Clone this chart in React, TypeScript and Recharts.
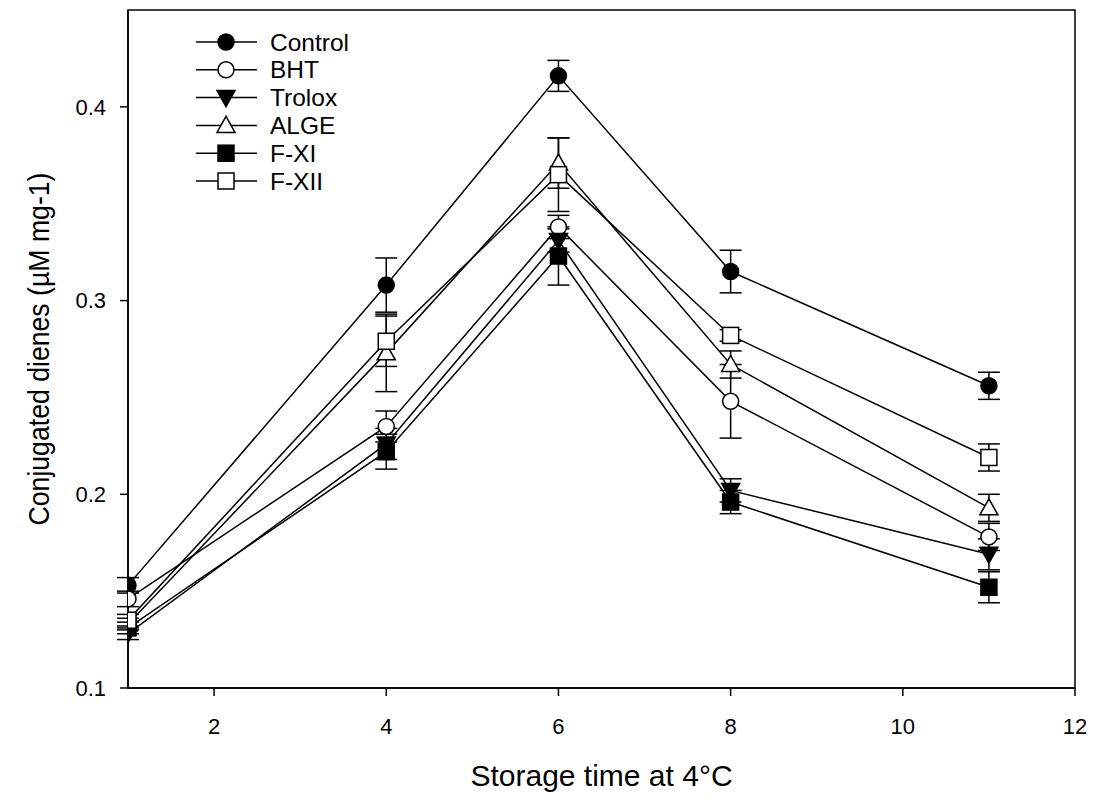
import React from "react";
import {
  LineChart,
  Line,
  XAxis,
  YAxis,
  ErrorBar,
  ReferenceArea,
  Label,
} from "recharts";

// storage days
const days = [1, 4, 6, 8, 11];

const control = [0.153, 0.308, 0.416, 0.315, 0.256];
const controlErr = [0.004, 0.014, 0.008, 0.011, 0.007];
const bht = [0.146, 0.235, 0.338, 0.248, 0.178];
const bhtErr = [0.004, 0.008, 0.006, 0.019, 0.007];
const trolox = [0.128, 0.226, 0.331, 0.202, 0.169];
const troloxErr = [0.003, 0.008, 0.006, 0.006, 0.008];
const alge = [0.133, 0.273, 0.371, 0.267, 0.193];
const algeErr = [0.003, 0.02, 0.013, 0.007, 0.007];
const fxi = [0.131, 0.222, 0.323, 0.196, 0.152];
const fxiErr = [0.003, 0.009, 0.015, 0.006, 0.008];
const fxii = [0.135, 0.279, 0.365, 0.282, 0.219];
const fxiiErr = [0.003, 0.013, 0.019, 0.003, 0.007];

const xTicks = [2, 4, 6, 8, 10, 12];
const yTicks = [0.1, 0.2, 0.3, 0.4];

type Shape = "circle" | "triangleDown" | "triangleUp" | "square";

const seriesList: { key: string; name: string; shape: Shape; filled: boolean }[] = [
  { key: "control", name: "Control", shape: "circle", filled: true },
  { key: "bht", name: "BHT", shape: "circle", filled: false },
  { key: "trolox", name: "Trolox", shape: "triangleDown", filled: true },
  { key: "alge", name: "ALGE", shape: "triangleUp", filled: false },
  { key: "fxi", name: "F-XI", shape: "square", filled: true },
  { key: "fxii", name: "F-XII", shape: "square", filled: false },
];

const values: Record<string, number[]> = { control, bht, trolox, alge, fxi, fxii };
const errors: Record<string, number[]> = {
  control: controlErr,
  bht: bhtErr,
  trolox: troloxErr,
  alge: algeErr,
  fxi: fxiErr,
  fxii: fxiiErr,
};

const data = days.map((d, i) => {
  const row: Record<string, number> = { x: d };
  seriesList.forEach((s) => {
    row[s.key] = values[s.key][i];
    row[s.key + "Err"] = errors[s.key][i];
  });
  return row;
});

const font = "'Liberation Sans', Arial, sans-serif";

function Marker({ cx, cy, shape, filled }: { cx: number; cy: number; shape: Shape; filled: boolean }) {
  const fill = filled ? "#000" : "#fff";
  const common = { fill, stroke: "#000", strokeWidth: 1.5 };
  if (shape === "circle") return <circle cx={cx} cy={cy} r={8} {...common} />;
  if (shape === "square") return <rect x={cx - 8} y={cy - 8} width={16} height={16} {...common} />;
  if (shape === "triangleDown")
    return <polygon points={`${cx - 9},${cy - 7} ${cx + 9},${cy - 7} ${cx},${cy + 9}`} {...common} />;
  return <polygon points={`${cx - 9},${cy + 7} ${cx + 9},${cy + 7} ${cx},${cy - 9}`} {...common} />;
}

// legend drawn as its own overlay so it doesn't eat plot space
function LegendBox() {
  return (
    <svg
      width={220}
      height={175}
      style={{ position: "absolute", left: 190, top: 28 }}
    >
      {seriesList.map((s, i) => {
        const y = 14 + i * 27.8;
        return (
          <g key={s.key}>
            <line x1={6} x2={67} y1={y} y2={y} stroke="#000" strokeWidth={1.5} />
            <Marker cx={36} cy={y} shape={s.shape} filled={s.filled} />
            <text x={80} y={y + 8.5} fontFamily={font} fontSize={24.5} fill="#000">
              {s.name}
            </text>
          </g>
        );
      })}
    </svg>
  );
}

export default function App() {
  return (
    <div style={{ position: "absolute", left: 0, top: 0, width: 1096, height: 806, background: "#fff" }}>
      <LineChart
        width={1096}
        height={806}
        data={data}
        margin={{ top: 10, right: 21, bottom: 88, left: 58 }}
      >
        <XAxis
          dataKey="x"
          type="number"
          domain={[1, 12]}
          ticks={xTicks}
          allowDataOverflow
          height={30}
          tickSize={8}
          tickMargin={22}
          stroke="#000"
          strokeWidth={1.5}
          tick={{ fill: "#000", fontSize: 22, fontFamily: font }}
        >
          <Label
            content={(p: any) => {
              const vb = p.viewBox;
              return (
                <text
                  x={vb.x + vb.width / 2}
                  y={786}
                  textAnchor="middle"
                  fontFamily={font}
                  fontSize={30}
                  fill="#000"
                >
                  Storage time at 4°C
                </text>
              );
            }}
          />
        </XAxis>
        <YAxis
          type="number"
          domain={[0.1, 0.45]}
          ticks={yTicks}
          allowDataOverflow
          width={70}
          tickSize={8}
          tickMargin={14}
          stroke="#000"
          strokeWidth={1.5}
          tick={{ fill: "#000", fontSize: 22, fontFamily: font }}
        >
          <Label
            content={(p: any) => {
              const vb = p.viewBox;
              const cy = vb.y + vb.height / 2;
              return (
                <text
                  x={49}
                  y={cy}
                  transform={`rotate(-90, 49, ${cy})`}
                  textAnchor="middle"
                  fontFamily={font}
                  fontSize={30}
                  textLength={353}
                  lengthAdjust="spacingAndGlyphs"
                  fill="#000"
                >
                  Conjugated dienes (µM mg-1)
                </text>
              );
            }}
          />
        </YAxis>
        <ReferenceArea
          x1={1}
          x2={12}
          y1={0.1}
          y2={0.45}
          fill="none"
          stroke="#000"
          strokeWidth={1.5}
          ifOverflow="visible"
        />
        {seriesList.map((s) => (
          <Line
            key={s.key}
            dataKey={s.key}
            name={s.name}
            stroke="#000"
            strokeWidth={1.5}
            isAnimationActive={false}
            dot={(p: any) => (
              <Marker key={`${s.key}-${p.index}`} cx={p.cx} cy={p.cy} shape={s.shape} filled={s.filled} />
            )}
            activeDot={false}
          >
            <ErrorBar
              dataKey={s.key + "Err"}
              direction="y"
              width={11}
              stroke="#000"
              strokeWidth={1.5}
              isAnimationActive={false}
            />
          </Line>
        ))}
      </LineChart>
      <LegendBox />
    </div>
  );
}
